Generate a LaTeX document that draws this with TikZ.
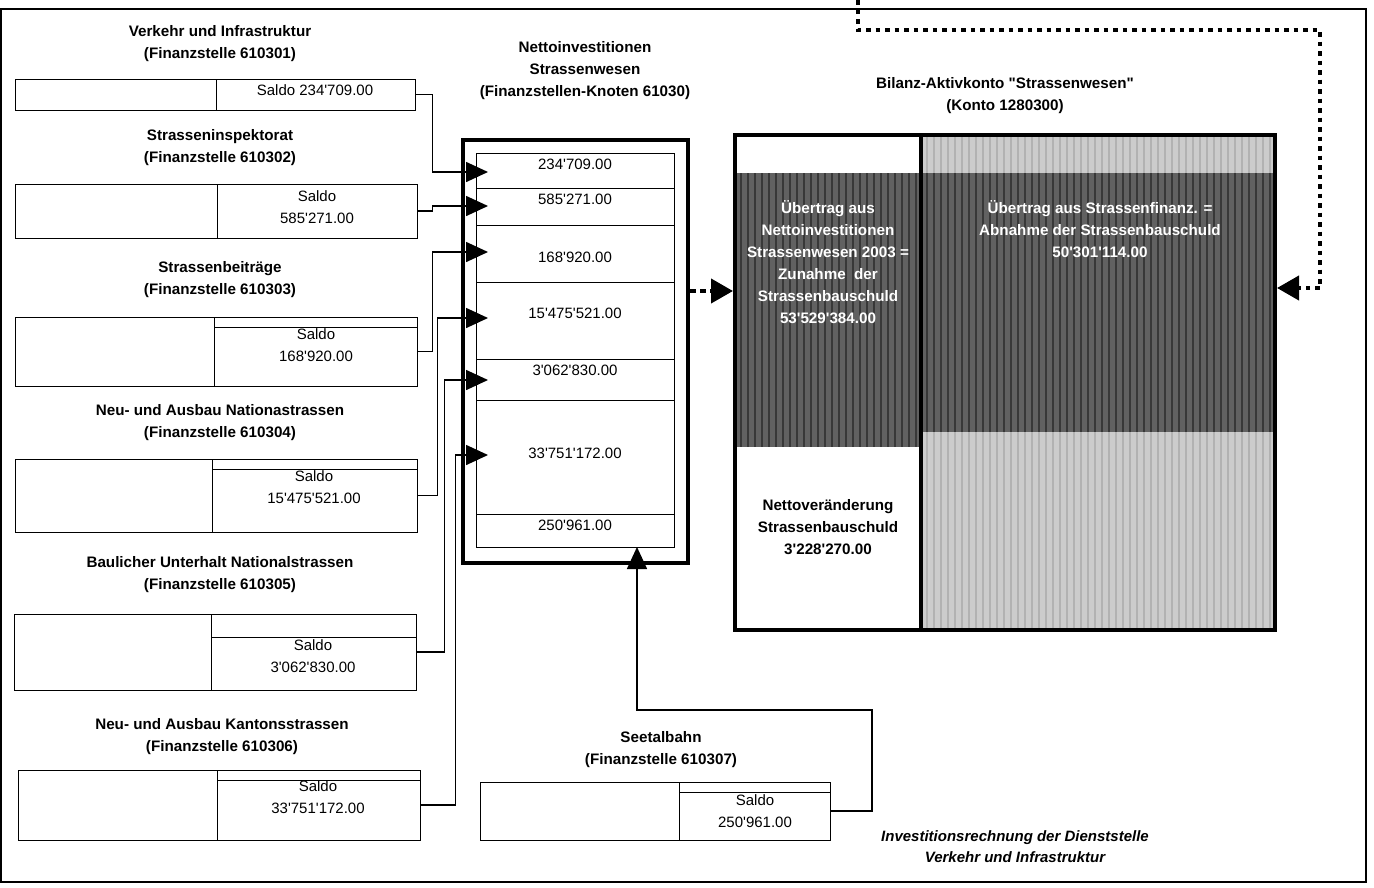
\documentclass[tikz,border=0pt]{standalone}
\usepackage{fontspec}
\newfontfamily\arialf{Liberation Sans}
\usetikzlibrary{arrows.meta,calc}
\begin{document}
\begin{tikzpicture}[x=1pt,y=-1pt,
  acct/.style={draw, line width=0.8pt, inner sep=0pt},
  lbl/.style={font=\arialf\fontsize{15.2}{22}\selectfont\bfseries, align=center, inner sep=0pt},
  val/.style={font=\arialf\fontsize{15}{22}\selectfont, align=center, inner sep=0pt},
  wlbl/.style={lbl, text=white},
  captext/.style={font=\arialf\fontsize{15}{21}\selectfont\bfseries\itshape, align=center, inner sep=0pt},
  thinrule/.style={line width=0.8pt},
  conn/.style={line width=1.6pt, -{Triangle[length=22pt,width=20pt]}},
  heavy/.style={draw, line width=4pt, inner sep=0pt},
  dashconn/.style={line width=4pt, dash pattern=on 6pt off 4pt, -{Triangle[length=22pt,width=24pt]}},
  dotconn/.style={line width=4pt, dash pattern=on 4.5pt off 5pt, -{Triangle[length=22pt,width=24pt]}},
  darkfill/.style={fill=black!62},
  lightfill/.style={fill=black!20},
  stripe/.style={line width=2pt, draw=black!78},
  lstripe/.style={line width=1.5pt, draw=black!30}]
\useasboundingbox (0,0) rectangle (1374,887);
% outer frame
\draw[line width=1.2pt] (1,9) rectangle (1366,882);

% ---------- left accounts ----------
\node[lbl] (h1) at (220,44) {Verkehr und Infrastruktur\\(Finanzstelle 610301)};
\node[acct, minimum width=400pt, minimum height=31pt] (b1) at (215,94.5) {};
\draw[thinrule] (216,79) -- (216,110);
\node[val] (v1) at (315,90) {Saldo 234'709.00};

\node[lbl] (h2) at (220,148) {Strasseninspektorat\\(Finanzstelle 610302)};
\node[acct, minimum width=402pt, minimum height=54pt] (b2) at (216,211) {};
\draw[thinrule] (217,184) -- (217,238);
\node[val] (v2) at (317,207.5) {Saldo\\585'271.00};

\node[lbl] (h3) at (220,280) {Strassenbeiträge\\(Finanzstelle 610303)};
\node[acct, minimum width=402pt, minimum height=69pt] (b3) at (216,351.5) {};
\draw[thinrule] (214,317) -- (214,386) (214,327) -- (417,327);
\node[val] (v3) at (316,345) {Saldo\\168'920.00};

\node[lbl] (h4) at (220,423) {Neu- und Ausbau Nationastrassen\\(Finanzstelle 610304)};
\node[acct, minimum width=402pt, minimum height=73pt] (b4) at (216,495.5) {};
\draw[thinrule] (212,459) -- (212,532) (212,469) -- (417,469);
\node[val] (v4) at (314,487.5) {Saldo\\15'475'521.00};

\node[lbl] (h5) at (220,575) {Baulicher Unterhalt Nationalstrassen\\(Finanzstelle 610305)};
\node[acct, minimum width=402pt, minimum height=76pt] (b5) at (215,652) {};
\draw[thinrule] (211,614) -- (211,690) (211,637) -- (416,637);
\node[val] (v5) at (313,656.5) {Saldo\\3'062'830.00};

\node[lbl] (h6) at (222,737) {Neu- und Ausbau Kantonsstrassen\\(Finanzstelle 610306)};
\node[acct, minimum width=402pt, minimum height=70pt] (b6) at (219,805) {};
\draw[thinrule] (217,770) -- (217,840) (217,780) -- (420,780);
\node[val] (v6) at (318,797.5) {Saldo\\33'751'172.00};

% ---------- Seetalbahn ----------
\node[lbl] (h7) at (661,750) {Seetalbahn\\(Finanzstelle 610307)};
\node[acct, minimum width=350pt, minimum height=58pt] (s) at (655,811) {};
\draw[thinrule] (679,782) -- (679,840) (679,792) -- (830,792);
\node[val] (v7) at (755,811.5) {Saldo\\250'961.00};

% ---------- central node ----------
\node[lbl] (hn) at (585,71) {Nettoinvestitionen\\Strassenwesen\\(Finanzstellen-Knoten 61030)};
\node[acct, minimum width=198pt, minimum height=394pt] (tab) at (575,350) {};
\foreach \yy in {188,225,282,359,400,514} \draw[thinrule] (476,\yy) -- (674,\yy);
\node[val] at (575,164) {234'709.00};
\node[val] at (575,199) {585'271.00};
\node[val] at (575,257) {168'920.00};
\node[val] at (575,313) {15'475'521.00};
\node[val] at (575,370) {3'062'830.00};
\node[val] at (575,453) {33'751'172.00};
\node[val] at (575,525) {250'961.00};
\node[heavy, minimum width=225pt, minimum height=423pt] (nb) at (575.5,351.5) {};

% ---------- balance account ----------
\node[lbl] (hb) at (1005,96) {Bilanz-Aktivkonto "Strassenwesen"\\(Konto 1280300)};
\fill[darkfill] (737,173) rectangle (919,447);
\fill[lightfill] (923,137) rectangle (1273,173);
\fill[darkfill] (923,173) rectangle (1273,432);
\fill[lightfill] (923,432) rectangle (1273,628);
\foreach \xx in {741,748,...,916} \draw[stripe] (\xx,173) -- (\xx,447);
\foreach \xx in {927,934,...,1270} \draw[stripe] (\xx,173) -- (\xx,432);
\foreach \xx in {927,934,...,1270} \draw[lstripe] (\xx,137) -- (\xx,173) (\xx,432) -- (\xx,628);
\node[heavy, minimum width=540pt, minimum height=495pt] (bil) at (1005,382.5) {};
\draw[line width=4pt] (921,135) -- (921,630);
\node[wlbl] (bl) at (828,262) {Übertrag aus\\Nettoinvestitionen\\Strassenwesen 2003 =\\Zunahme\ \ der\\Strassenbauschuld\\53'529'384.00};
\node[wlbl] (br) at (1100,229) {Übertrag aus Strassenfinanz. =\\Abnahme der Strassenbauschuld\\50'301'114.00};
\node[lbl] (bn) at (828,527.5) {Nettoveränderung\\Strassenbauschuld\\3'228'270.00};

% caption
\node[captext] (cp) at (1015,846.5) {Investitionsrechnung der Dienststelle\\Verkehr und Infrastruktur};

% ---------- connectors ----------
\coordinate (t1) at (488,172);
\coordinate (t2) at (488,206);
\coordinate (t3) at (488,252);
\coordinate (t4) at (488,318);
\coordinate (t5) at (488,380);
\coordinate (t6) at (488,455);
\coordinate (t7) at (637,547);
\draw[conn] (b1.east) -- ++(17,0) |- (t1);
\draw[conn] (b2.east) -- ++(15,0) |- (t2);
\draw[conn] (b3.east) -- ++(15,0) |- (t3);
\draw[conn] (b4.east) -- ++(20,0) |- (t4);
\draw[conn] (b5.east) -- ++(28,0) |- (t5);
\draw[conn] (b6.east) -- ++(35,0) |- (t6);
\draw[conn] (s.east) -| (872,710) -| (t7);

\path (nb.north east) ++(0,153) coordinate (d1);
\draw[dashconn] (d1) -- (d1 -| bil.west);

\coordinate (q0) at (858,0);
\draw[dotconn] (q0) -- (858,30) -- (1320,30) -- (1320,288) -- (bil.east |- 0,288);
\end{tikzpicture}
\end{document}
